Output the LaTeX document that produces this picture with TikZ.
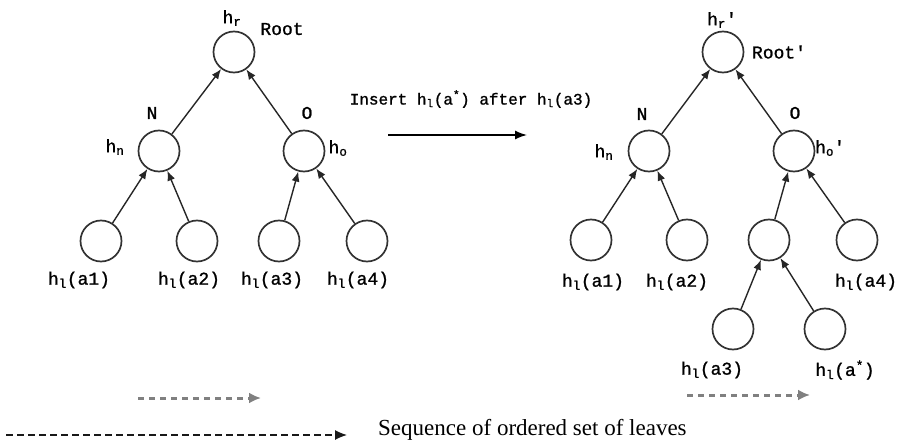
\documentclass[tikz,border=0pt]{standalone}
\usepackage{fontspec}
\setmainfont{Liberation Serif}
\newfontfamily\labfont[FakeBold=1.2]{Liberation Mono}
\usetikzlibrary{arrows.meta}
\begin{document}
\begin{tikzpicture}[x=1pt,y=-1pt,
  hnode/.style={circle,draw=black!80,line width=1.7pt,minimum size=41pt,inner sep=0pt},
  lab/.style={font=\labfont\fontsize{18}{18}\selectfont,text=black,inner sep=0pt},
  edge/.style={line width=1.4pt,draw=black!85,-{Latex[length=10pt,width=8pt]}},
  seqgray/.style={line width=3pt,draw=black!50,dash pattern=on 6pt off 5pt,-{Latex[length=12pt,width=11pt]}},
  seqblack/.style={line width=1.2pt,draw=black!90,dash pattern=on 7pt off 4pt,-{Latex[length=12pt,width=10pt]}}]
\useasboundingbox (0,0) rectangle (902,441);

% ---- original tree ----
\node[hnode] (rt)  at (234,52)  {};
\node[hnode] (n)   at (159,151) {};
\node[hnode] (o)   at (304,151) {};
\node[hnode] (l1)  at (101,241) {};
\node[hnode] (l2)  at (197,241) {};
\node[hnode] (l3)  at (279,241) {};
\node[hnode] (l4)  at (367,241) {};
\draw[edge] (n) -- (rt);
\draw[edge] (o) -- (rt);
\draw[edge] (l1) -- (n);
\draw[edge] (l2) -- (n);
\draw[edge] (l3) -- (o);
\draw[edge] (l4) -- (o);

\node[lab] (rtH)  at (232,18)  {h\textsubscript{r}};
\node[lab] (rtL)  at (282,29)  {Root};
\node[lab] (nL)   at (152,113) {N};
\node[lab] (nH)   at (115,147) {h\textsubscript{n}};
\node[lab] (oL)   at (307,113) {O};
\node[lab] (oH)   at (338,148) {h\textsubscript{o}};
\node[lab] (l1L)  at (79,280)  {h\textsubscript{l}(a1)};
\node[lab] (l2L)  at (189,280) {h\textsubscript{l}(a2)};
\node[lab] (l3L)  at (272,280) {h\textsubscript{l}(a3)};
\node[lab] (l4L)  at (358,280) {h\textsubscript{l}(a4)};

% ---- insertion step ----
\node[lab,font=\labfont\fontsize{16}{16}\selectfont] (ins) at (471,99) {Insert h\textsubscript{l}(a\textsuperscript{*}) after h\textsubscript{l}(a3)};
\coordinate (insA) at (388,135);
\coordinate (insB) at (527,135);
\draw[line width=1.5pt,-{Latex[length=12pt,width=9pt]}] (insA) -- (insB);

% ---- updated tree ----
\node[hnode] (rt2) at (723,52)  {};
\node[hnode] (n2)  at (649,151) {};
\node[hnode] (o2)  at (794,151) {};
\node[hnode] (m1)  at (591,240) {};
\node[hnode] (m2)  at (687,240) {};
\node[hnode] (mid) at (769,240) {};
\node[hnode] (m4)  at (857,240) {};
\node[hnode] (m3)  at (733,329) {};
\node[hnode] (ms)  at (825,329) {};
\draw[edge] (n2) -- (rt2);
\draw[edge] (o2) -- (rt2);
\draw[edge] (m1) -- (n2);
\draw[edge] (m2) -- (n2);
\draw[edge] (mid) -- (o2);
\draw[edge] (m4) -- (o2);
\draw[edge] (m3) -- (mid);
\draw[edge] (ms) -- (mid);

\node[lab] (rt2H) at (722,20)  {h\textsubscript{r}'};
\node[lab] (rt2L) at (779,52)  {Root'};
\node[lab] (n2L)  at (642,114) {N};
\node[lab] (n2H)  at (604,152) {h\textsubscript{n}};
\node[lab] (o2L)  at (795,113) {O};
\node[lab] (o2H)  at (830,148) {h\textsubscript{o}'};
\node[lab] (m1L)  at (593,282) {h\textsubscript{l}(a1)};
\node[lab] (m2L)  at (677,282) {h\textsubscript{l}(a2)};
\node[lab] (m4L)  at (866,282) {h\textsubscript{l}(a4)};
\node[lab] (m3L)  at (712,370) {h\textsubscript{l}(a3)};
\node[lab] (msL)  at (845,370) {h\textsubscript{l}(a\textsuperscript{*})};

% ---- leaf order arrows ----
\coordinate (sqA1) at (138,398);
\coordinate (sqB1) at (261,398);
\draw[seqgray] (sqA1) -- (sqB1);
\coordinate (sqA2) at (687,395);
\coordinate (sqB2) at (810,395);
\draw[seqgray] (sqA2) -- (sqB2);

% ---- legend ----
\coordinate (lgA) at (6,435);
\coordinate (lgB) at (347,435);
\draw[seqblack] (lgA) -- (lgB);
\node[anchor=west,inner sep=0pt,font=\fontsize{23}{23}\selectfont] (lgT) at (378,430) {Sequence of ordered set of leaves};
\end{tikzpicture}
\end{document}
